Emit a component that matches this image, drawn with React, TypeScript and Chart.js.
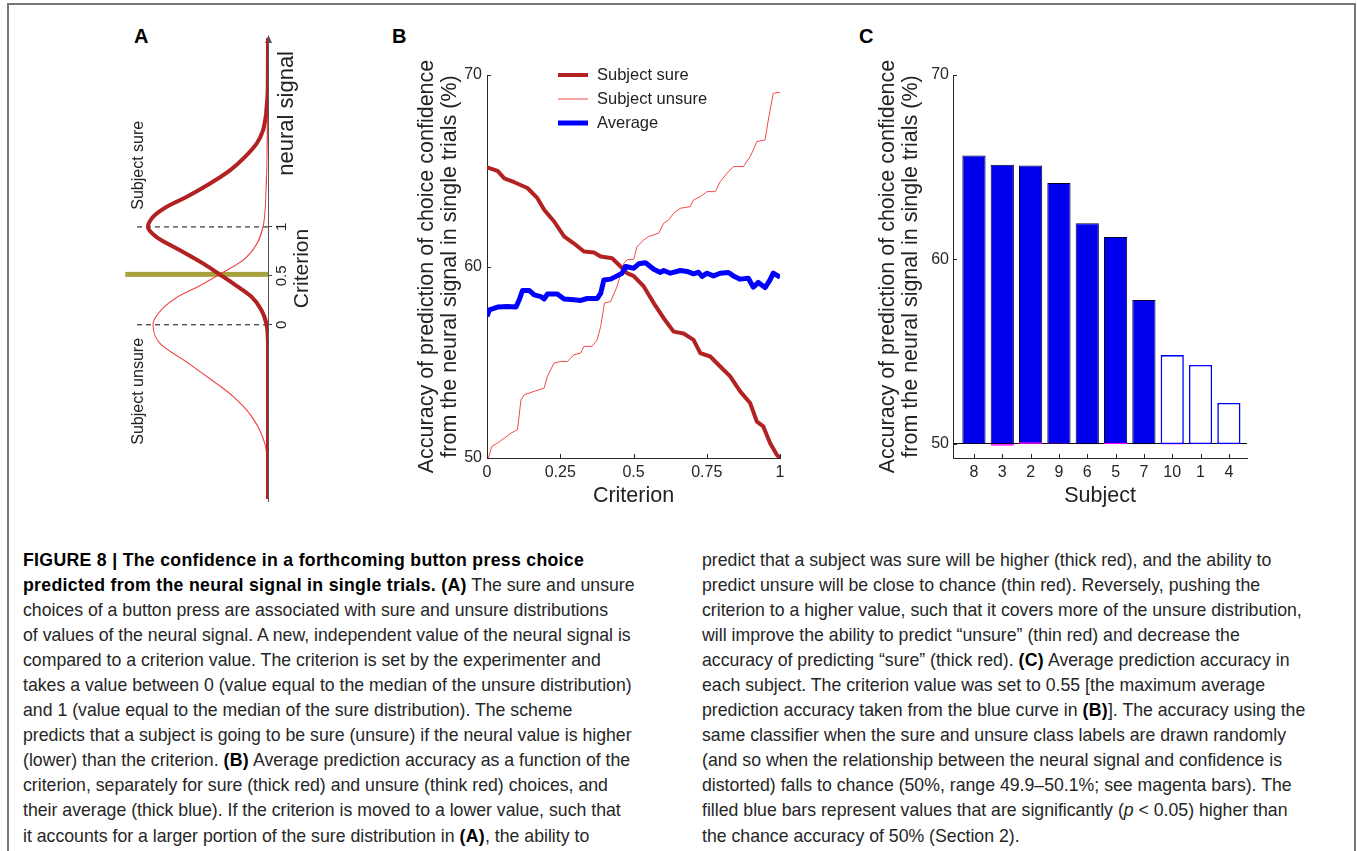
import { useEffect, useRef } from "react";
import { Chart, registerables } from "chart.js";

Chart.register(...registerables);

const FONT = "'Liberation Sans', Arial, Helvetica, sans-serif";
Chart.defaults.font.family = FONT;
Chart.defaults.color = "#222";

// ---- Panel A: schematic distributions (signal in criterion units, density relative to the sure peak)
const sureSignal = [-1.78, -0.19, 0.017, 0.153, 0.288, 0.424, 0.515, 0.627, 0.763, 0.898, 1.0, 1.102, 1.203, 1.305, 1.441, 1.576, 1.712, 1.847, 1.983, 2.186, 2.4, 2.93];
const sureDensity = [0, 0, 0.014, 0.056, 0.139, 0.292, 0.403, 0.542, 0.736, 0.931, 1.0, 0.958, 0.847, 0.681, 0.486, 0.319, 0.194, 0.097, 0.042, 0.014, 0.002, 0];
const unsureSignal = [-1.78, -1.34, -1.136, -0.93, -0.73, -0.525, -0.39, -0.186, 0, 0.153, 0.288, 0.39, 0.515, 0.66, 0.83, 1.0, 1.17, 1.51, 1.98, 2.3];
const unsureDensity = [0, 0.008, 0.047, 0.139, 0.292, 0.514, 0.667, 0.903, 0.958, 0.889, 0.75, 0.583, 0.403, 0.208, 0.092, 0.042, 0.025, 0.012, 0.005, 0];
const criterionLine = 0.515;
const medianLevels = [0, 1];
const criterionTicks = [0, 0.5, 1];

// ---- Panel B: accuracy vs criterion
const sureX = [0, 0.036, 0.059, 0.093, 0.138, 0.172, 0.195, 0.229, 0.263, 0.297, 0.331, 0.365, 0.388, 0.427, 0.456, 0.478, 0.501, 0.535, 0.569, 0.603, 0.637, 0.671, 0.705, 0.728, 0.762, 0.796, 0.83, 0.864, 0.898, 0.921, 0.943, 0.966, 0.989, 1];
const sureY = [65.18, 64.99, 64.6, 64.4, 64.1, 63.57, 62.96, 62.35, 61.57, 61.2, 60.78, 60.73, 60.52, 60.43, 60.0, 59.65, 59.5, 58.96, 58.09, 57.3, 56.6, 56.5, 56.17, 55.48, 55.3, 54.78, 54.26, 53.48, 52.87, 51.9, 51.65, 50.78, 50.17, 50.0];
const unsureX = [0.005, 0.016, 0.036, 0.059, 0.082, 0.104, 0.116, 0.127, 0.161, 0.195, 0.206, 0.229, 0.252, 0.274, 0.297, 0.32, 0.331, 0.359, 0.376, 0.388, 0.401, 0.422, 0.444, 0.467, 0.478, 0.501, 0.512, 0.535, 0.552, 0.586, 0.603, 0.62, 0.637, 0.66, 0.694, 0.705, 0.728, 0.751, 0.779, 0.796, 0.819, 0.841, 0.875, 0.898, 0.909, 0.921, 0.949, 0.96, 0.977, 1];
const unsureY = [50, 50.6, 50.78, 51.04, 51.3, 51.48, 53.04, 53.3, 53.48, 53.65, 54.26, 54.96, 55.04, 55.04, 55.39, 55.48, 55.83, 55.83, 56.17, 56.87, 58.09, 58.17, 58.96, 60.17, 60.35, 60.38, 61.04, 61.39, 61.57, 61.74, 62.26, 62.43, 62.78, 63.04, 63.13, 63.48, 63.65, 63.91, 63.91, 64.43, 64.87, 65.22, 65.22, 65.74, 66.09, 66.52, 66.61, 67.65, 69.04, 69.1];
const averageX = [0, 0.008, 0.036, 0.07, 0.099, 0.11, 0.121, 0.144, 0.161, 0.184, 0.195, 0.206, 0.24, 0.263, 0.297, 0.32, 0.342, 0.376, 0.388, 0.399, 0.422, 0.444, 0.461, 0.473, 0.501, 0.518, 0.541, 0.569, 0.592, 0.603, 0.626, 0.66, 0.683, 0.705, 0.722, 0.734, 0.751, 0.773, 0.796, 0.824, 0.841, 0.864, 0.892, 0.909, 0.926, 0.949, 0.966, 0.977, 1];
const averageY = [57.39, 57.74, 57.88, 57.91, 57.88, 58.26, 58.75, 58.75, 58.52, 58.43, 58.3, 58.56, 58.56, 58.3, 58.26, 58.23, 58.33, 58.33, 58.6, 59.3, 59.34, 59.51, 59.65, 60.0, 59.91, 60.14, 60.2, 59.86, 59.69, 59.79, 59.65, 59.79, 59.74, 59.62, 59.7, 59.48, 59.65, 59.51, 59.65, 59.69, 59.51, 59.34, 59.39, 58.92, 59.17, 58.9, 59.3, 59.65, 59.44];

// ---- Panel C: per-subject accuracy
const subjects = ["8", "3", "2", "9", "6", "5", "7", "10", "1", "4"];
const accuracy = [65.63, 65.14, 65.09, 64.15, 61.96, 61.22, 57.8, 54.82, 54.28, 52.22];
const significant = [true, true, true, true, true, true, true, false, false, false];
const chance = [50.0, 49.9, 50.1, 50.02, 49.99, 50.06, 49.98, 49.97, 49.98, 49.98];

const yTitle = ["Accuracy of prediction of choice confidence", "from the neural signal in single trials (%)"];

const pts = (xs: number[], ys: number[]) => xs.map((x, i) => ({ x, y: ys[i] }));

const AXIS = "#262626";

const inwardTicks = {
  id: "inwardTicks",
  afterDatasetsDraw(chart: any, _a: any, opts: any) {
    const { ctx, chartArea } = chart;
    ctx.save();
    ctx.strokeStyle = opts.color || AXIS;
    ctx.lineWidth = 1;
    for (const id of ["x", "y"]) {
      const s = chart.scales[id];
      for (const t of s.ticks) {
        const p = Math.round(s.getPixelForValue(t.value)) + 0.5;
        ctx.beginPath();
        if (s.isHorizontal()) {
          ctx.moveTo(p, chartArea.bottom);
          ctx.lineTo(p, chartArea.bottom - opts.length);
        } else {
          ctx.moveTo(chartArea.left, p);
          ctx.lineTo(chartArea.left + opts.length, p);
        }
        ctx.stroke();
      }
    }
    ctx.restore();
  },
};

const insideLegend = {
  id: "insideLegend",
  afterDatasetsDraw(chart: any, _a: any, opts: any) {
    const { ctx, chartArea } = chart;
    ctx.save();
    ctx.font = `${opts.fontSize}px ${FONT}`;
    ctx.textBaseline = "middle";
    ctx.fillStyle = "#222";
    chart.data.datasets.forEach((ds: any, i: number) => {
      const y = chartArea.top + opts.rowGap * i;
      const x0 = chartArea.left + opts.lineStart;
      ctx.strokeStyle = ds.borderColor;
      ctx.lineWidth = ds.borderWidth;
      ctx.beginPath();
      ctx.moveTo(x0, y);
      ctx.lineTo(x0 + opts.lineLength, y);
      ctx.stroke();
      ctx.fillText(ds.label, chartArea.left + opts.textStart, y);
    });
    ctx.restore();
  },
};

const schemeDecor = {
  id: "schemeDecor",
  beforeDatasetsDraw(chart: any) {
    const { ctx, chartArea } = chart;
    const y = chartArea.bottom + 0.5;
    ctx.save();
    ctx.strokeStyle = "#555";
    ctx.fillStyle = "#555";
    ctx.lineWidth = 1;
    ctx.beginPath();
    ctx.moveTo(chartArea.left - 3, y);
    ctx.lineTo(chartArea.right, y);
    ctx.stroke();
    ctx.beginPath();
    ctx.moveTo(chartArea.right + 3, y);
    ctx.lineTo(chartArea.right - 5, y - 3.5);
    ctx.lineTo(chartArea.right - 5, y + 3.5);
    ctx.closePath();
    ctx.fill();
    ctx.restore();
  },
  afterDatasetsDraw(chart: any) {
    const { ctx, chartArea, scales } = chart;
    ctx.save();
    ctx.fillStyle = "#222";
    ctx.textAlign = "center";
    ctx.textBaseline = "middle";
    ctx.font = `22px ${FONT}`;
    ctx.fillText("neural signal", scales.x.getPixelForValue(2.16), chartArea.bottom + 19);
    ctx.font = `16px ${FONT}`;
    ctx.fillText("Subject sure", scales.x.getPixelForValue(1.63), scales.y.getPixelForValue(1.075));
    ctx.fillText("Subject unsure", scales.x.getPixelForValue(-0.68), scales.y.getPixelForValue(1.075));
    ctx.restore();
  },
};

function PanelA() {
  const ref = useRef<HTMLCanvasElement | null>(null);
  useEffect(() => {
    if (!ref.current) return;
    const line = { showLine: true, pointRadius: 0, fill: false };
    const chart = new Chart(ref.current, {
      type: "scatter",
      data: {
        datasets: [
          { ...line, label: "criterion", data: [{ x: criterionLine, y: 0 }, { x: criterionLine, y: 1.19 }], borderColor: "#a7a23e", borderWidth: 5, order: 5 },
          ...medianLevels.map((m) => ({
            ...line, label: "median " + m, data: [{ x: m, y: 0 }, { x: m, y: 1.108 }], borderColor: "#222", borderWidth: 1.1, borderDash: [5, 4], order: 4,
          })),
          { ...line, label: "unsure", data: pts(unsureSignal, unsureDensity), borderColor: "#f04040", borderWidth: 1.1, cubicInterpolationMode: "monotone", order: 2 },
          { ...line, label: "sure", data: pts(sureSignal, sureDensity), borderColor: "#b22222", borderWidth: 4, cubicInterpolationMode: "monotone", order: 1 },
        ] as any,
      },
      options: {
        animation: false,
        responsive: false,
        events: [],
        layout: { padding: { left: 6, right: 8, top: 5, bottom: 0 } },
        plugins: { legend: { display: false }, tooltip: { enabled: false } },
        scales: {
          x: {
            type: "linear",
            min: -1.78,
            max: 2.93,
            afterBuildTicks: (s: any) => { s.ticks = criterionTicks.map((value) => ({ value })); },
            afterFit: (s: any) => { s.height = 52; },
            ticks: { font: { size: 15 }, padding: 1, maxRotation: 0, autoSkip: false, callback: (v: any) => String(v) },
            grid: { display: true, drawOnChartArea: false, drawTicks: true, tickLength: 4, color: "#444" },
            border: { display: false },
            title: { display: true, text: "Criterion", font: { size: 21 }, padding: { top: 0, bottom: 5 } },
          },
          y: { type: "linear", min: 0, max: 1.233, display: false },
        },
      },
      plugins: [schemeDecor],
    });
    return () => chart.destroy();
  }, []);
  return (
    <div style={{ position: "absolute", left: -20, top: 165, width: 475, height: 205, transform: "rotate(-90deg)", transformOrigin: "50% 50%" }}>
      <canvas ref={ref} width={475} height={205} style={{ width: 475, height: 205, display: "block" }} />
    </div>
  );
}

function PanelB() {
  const ref = useRef<HTMLCanvasElement | null>(null);
  useEffect(() => {
    if (!ref.current) return;
    const line = { showLine: true, pointRadius: 0, fill: false, borderJoinStyle: "round" };
    const chart = new Chart(ref.current, {
      type: "scatter",
      data: {
        datasets: [
          { ...line, label: "Subject sure", data: pts(sureX, sureY), borderColor: "#b22222", borderWidth: 4, order: 1 },
          { ...line, label: "Subject unsure", data: pts(unsureX, unsureY), borderColor: "#f24a4a", borderWidth: 1, order: 2 },
          { ...line, label: "Average", data: pts(averageX, averageY), borderColor: "#0000ff", borderWidth: 5, order: 0 },
        ] as any,
      },
      options: {
        animation: false,
        responsive: false,
        events: [],
        layout: { padding: { left: 0, right: 20, top: 35, bottom: 0 } },
        plugins: {
          legend: { display: false },
          tooltip: { enabled: false },
          inwardTicks: { length: 4, color: AXIS },
          insideLegend: { fontSize: 16.5, rowGap: 24, lineStart: 71, lineLength: 30, textStart: 110 },
        } as any,
        scales: {
          x: {
            type: "linear",
            min: 0,
            max: 1,
            afterFit: (s: any) => { s.height = 62; },
            ticks: { stepSize: 0.25, font: { size: 16 }, padding: 5, color: AXIS, maxRotation: 0, callback: (v: any) => String(v) },
            grid: { display: false, drawTicks: false },
            border: { display: true, color: AXIS, width: 1 },
            title: { display: true, text: "Criterion", font: { size: 21.5 }, padding: { top: 0, bottom: 11 }, color: "#222" },
          },
          y: {
            type: "linear",
            min: 50,
            max: 70,
            afterFit: (s: any) => { s.width = 87; },
            ticks: { stepSize: 10, font: { size: 16 }, padding: 5, color: AXIS },
            grid: { display: false, drawTicks: false },
            border: { display: true, color: AXIS, width: 1 },
            title: { display: true, text: yTitle, font: { size: 21.5, lineHeight: 1.1 }, padding: { top: 15, bottom: 0 }, color: "#222" },
          },
        },
      },
      plugins: [inwardTicks, insideLegend],
    });
    return () => chart.destroy();
  }, []);
  return <canvas ref={ref} width={400} height={480} style={{ position: "absolute", left: 400, top: 40, width: 400, height: 480 }} />;
}

function PanelC() {
  const ref = useRef<HTMLCanvasElement | null>(null);
  useEffect(() => {
    if (!ref.current) return;
    const bar = { grouped: false, categoryPercentage: 1, barPercentage: 0.82, borderSkipped: false };
    const chart = new Chart(ref.current, {
      type: "bar",
      data: {
        datasets: [
          {
            ...bar, label: "chance", order: 0,
            data: subjects.map((_, i) => ({ x: i + 1, y: [50, chance[i]] })),
            backgroundColor: "#ff00ff", borderColor: "#ff00ff", borderWidth: 0.8,
          },
          {
            ...bar, label: "accuracy", order: 1,
            data: subjects.map((_, i) => ({ x: i + 1, y: [50, accuracy[i]] })),
            backgroundColor: significant.map((s) => (s ? "#0000ee" : "#ffffff")),
            borderColor: significant.map((s) => (s ? "#00002a" : "#0000ff")),
            borderWidth: significant.map((s) => (s ? 1 : 1.6)),
          },
        ] as any,
      },
      options: {
        animation: false,
        responsive: false,
        events: [],
        layout: { padding: { left: 0, right: 23, top: 35, bottom: 0 } },
        plugins: {
          legend: { display: false },
          tooltip: { enabled: false },
          inwardTicks: { length: 4, color: AXIS },
        } as any,
        scales: {
          x: {
            type: "linear",
            offset: false,
            min: 0.26,
            max: 10.64,
            afterBuildTicks: (s: any) => { s.ticks = subjects.map((_, i) => ({ value: i + 1 })); },
            afterFit: (s: any) => { s.height = 62; },
            ticks: { font: { size: 16 }, padding: 5, color: AXIS, maxRotation: 0, autoSkip: false, callback: (v: any) => subjects[Number(v) - 1] },
            grid: { display: false, drawTicks: false, offset: false },
            border: { display: true, color: AXIS, width: 1 },
            title: { display: true, text: "Subject", font: { size: 21.5 }, padding: { top: 0, bottom: 11 }, color: "#222" },
          },
          y: {
            type: "linear",
            min: 49.24,
            max: 70,
            afterBuildTicks: (s: any) => { s.ticks = [50, 60, 70].map((value) => ({ value })); },
            afterFit: (s: any) => { s.width = 93; },
            ticks: { font: { size: 16 }, padding: 4, color: AXIS },
            grid: { display: true, drawTicks: false, lineWidth: 1, color: (c: any) => (c.tick && c.tick.value === 50 ? "#111" : "rgba(0,0,0,0)") },
            border: { display: true, color: AXIS, width: 1 },
            title: { display: true, text: yTitle, font: { size: 21.5, lineHeight: 1.1 }, padding: { top: 16, bottom: 0 }, color: "#222" },
          },
        },
      },
      plugins: [inwardTicks],
    });
    return () => chart.destroy();
  }, []);
  return <canvas ref={ref} width={410} height={480} style={{ position: "absolute", left: 860, top: 40, width: 410, height: 480 }} />;
}

const leftLines = [
  "**FIGURE 8 | The confidence in a forthcoming button press choice**",
  "**predicted from the neural signal in single trials. (A)** The sure and unsure",
  "choices of a button press are associated with sure and unsure distributions",
  "of values of the neural signal. A new, independent value of the neural signal is",
  "compared to a criterion value. The criterion is set by the experimenter and",
  "takes a value between 0 (value equal to the median of the unsure distribution)",
  "and 1 (value equal to the median of the sure distribution). The scheme",
  "predicts that a subject is going to be sure (unsure) if the neural value is higher",
  "(lower) than the criterion. **(B)** Average prediction accuracy as a function of the",
  "criterion, separately for sure (thick red) and unsure (think red) choices, and",
  "their average (thick blue). If the criterion is moved to a lower value, such that",
  "it accounts for a larger portion of the sure distribution in **(A)**, the ability to",
];

const rightLines = [
  "predict that a subject was sure will be higher (thick red), and the ability to",
  "predict unsure will be close to chance (thin red). Reversely, pushing the",
  "criterion to a higher value, such that it covers more of the unsure distribution,",
  "will improve the ability to predict \u201cunsure\u201d (thin red) and decrease the",
  "accuracy of predicting \u201csure\u201d (thick red). **(C)** Average prediction accuracy in",
  "each subject. The criterion value was set to 0.55 [the maximum average",
  "prediction accuracy taken from the blue curve in **(B)**]. The accuracy using the",
  "same classifier when the sure and unsure class labels are drawn randomly",
  "(and so when the relationship between the neural signal and confidence is",
  "distorted) falls to chance (50%, range 49.9\u201350.1%; see magenta bars). The",
  "filled blue bars represent values that are significantly (_p_ < 0.05) higher than",
  "the chance accuracy of 50% (Section 2).",
];

function Line({ text }: { text: string }) {
  const parts = text.split(/(\*\*[^*]+\*\*|_[^_]+_)/).filter((p) => p.length);
  return (
    <div style={{ whiteSpace: "nowrap", height: 25.1, lineHeight: "25.1px" }}>
      {parts.map((p, i) =>
        p.startsWith("**") ? (
          <b key={i} style={{ color: "#000", letterSpacing: 0.3 }}>{p.slice(2, -2)}</b>
        ) : p.startsWith("_") ? (
          <i key={i}>{p.slice(1, -1)}</i>
        ) : (
          <span key={i}>{p}</span>
        )
      )}
    </div>
  );
}

const letterStyle = { position: "absolute" as const, top: 26, fontSize: 20, lineHeight: "20px", fontWeight: 700, color: "#000" };

export default function App() {
  return (
    <div style={{ position: "fixed", left: 0, top: 0, width: 1357, height: 851, overflow: "hidden", background: "#fff", fontFamily: FONT }}>
      <div style={{ position: "absolute", left: 7, top: 3, width: 1349, height: 900, boxSizing: "border-box", border: "2px solid #767676", borderBottom: "none" }} />
      <div style={{ ...letterStyle, left: 134 }}>A</div>
      <div style={{ ...letterStyle, left: 392 }}>B</div>
      <div style={{ ...letterStyle, left: 859 }}>C</div>
      <PanelA />
      <PanelB />
      <PanelC />
      <div style={{ position: "absolute", left: 23, top: 547.5, fontSize: 17.7, color: "#262626" }}>
        {leftLines.map((t, i) => <Line key={i} text={t} />)}
      </div>
      <div style={{ position: "absolute", left: 702, top: 547.5, fontSize: 17.7, color: "#262626" }}>
        {rightLines.map((t, i) => <Line key={i} text={t} />)}
      </div>
    </div>
  );
}
